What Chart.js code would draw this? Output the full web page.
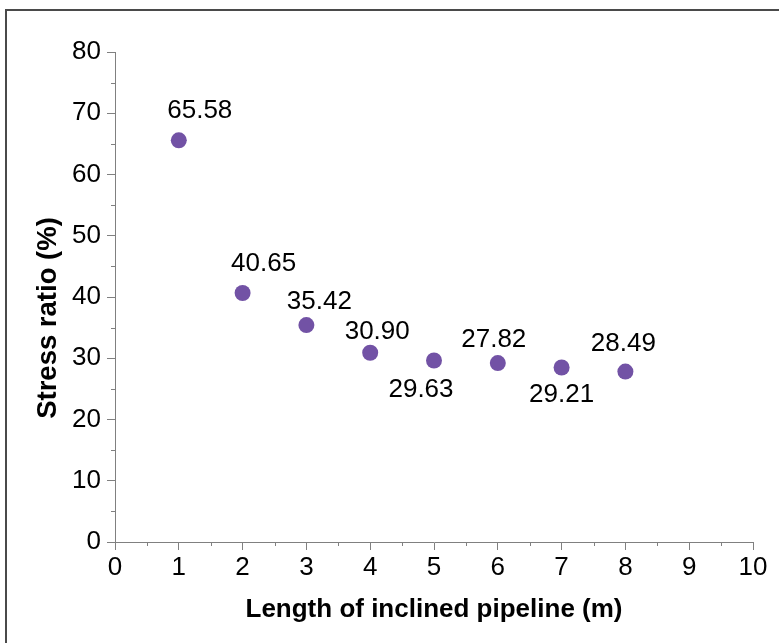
<!DOCTYPE html>
<html><head><meta charset="utf-8">
<script src="https://cdn.jsdelivr.net/npm/chart.js@4.4.1/dist/chart.umd.min.js"></script>
<style>
html,body{margin:0;padding:0;background:#fff;overflow:hidden}
#wrap{position:relative;width:779px;height:643px}
#frame{position:absolute;left:5px;top:9px;width:800px;height:700px;border-left:2px solid #4a4a4a;border-top:2px solid #4a4a4a}
canvas{position:absolute;left:0;top:0}
</style></head><body>
<div id="wrap"><div id="frame"></div><canvas id="c" width="779" height="643"></canvas></div>
<script>
// ---- data ----
const lengths = [1, 2, 3, 4, 5, 6, 7, 8];
const stressRatio = [65.58, 40.65, 35.42, 30.90, 29.63, 29.21, 28.49, 27.82];
const pointLabels = ["65.58", "40.65", "35.42", "30.90", "29.63", "27.82", "29.21", "28.49"];
const xMinorTicks = [0.5, 1.5, 2.5, 3.5, 4.5, 5.5, 6.5, 7.5, 8.5, 9.5];
const yMinorTicks = [5, 15, 25, 35, 45, 55, 65, 75];
const xTitle = 'Length of inclined pipeline (m)';
const yTitle = 'Stress ratio (%)';

// ---- styling (label placement relative to each point) ----
const labelOffsets = [[21,-22],[21,-22],[13,-16],[7,-14],[-13,36],[-4,-16],[0,35],[-2,-21]];
const FONT = "'Liberation Sans', Arial, sans-serif";
const AXIS = '#808080';

const minorTicks = {
  id: 'minorTicks',
  afterDraw(chart) {
    const {ctx, chartArea, scales} = chart;
    ctx.save();
    ctx.strokeStyle = AXIS;
    ctx.lineWidth = 1;
    ctx.beginPath();
    yMinorTicks.forEach(v => {
      const y = Math.round(scales.y.getPixelForValue(v)) + 0.5;
      ctx.moveTo(chartArea.left - 4, y); ctx.lineTo(chartArea.left, y);
    });
    xMinorTicks.forEach(v => {
      const x = Math.round(scales.x.getPixelForValue(v)) + 0.5;
      ctx.moveTo(x, chartArea.bottom); ctx.lineTo(x, chartArea.bottom + 4);
    });
    ctx.stroke();
    // y axis title
    ctx.save();
    ctx.translate(48, 318);
    ctx.rotate(-Math.PI / 2);
    ctx.font = 'bold 27.5px ' + FONT;
    ctx.fillStyle = '#000';
    ctx.textAlign = 'center';
    ctx.textBaseline = 'middle';
    ctx.fillText(yTitle, 0, 0);
    ctx.restore();
    ctx.restore();
  }
};

const valueLabels = {
  id: 'valueLabels',
  afterDatasetsDraw(chart) {
    const {ctx} = chart;
    const meta = chart.getDatasetMeta(0);
    ctx.save();
    ctx.font = '26px ' + FONT;
    ctx.fillStyle = '#000';
    ctx.textAlign = 'center';
    ctx.textBaseline = 'alphabetic';
    meta.data.forEach((pt, i) => {
      const [dx, dy] = labelOffsets[i];
      ctx.fillText(pointLabels[i], pt.x + dx, pt.y + dy);
    });
    ctx.restore();
  }
};

new Chart(document.getElementById('c'), {
  type: 'scatter',
  data: {
    datasets: [{
      data: lengths.map((x, i) => ({x, y: stressRatio[i]})),
      backgroundColor: '#7252a5',
      borderColor: '#7252a5',
      borderWidth: 0,
      pointRadius: 8,
      pointHoverRadius: 8
    }]
  },
  options: {
    responsive: false,
    animation: false,
    events: [],
    layout: {padding: {left: 0, top: 52, right: 26, bottom: 0}},
    plugins: {legend: {display: false}, tooltip: {enabled: false}},
    scales: {
      x: {
        type: 'linear', min: 0, max: 10,
        afterFit(s) { s.height = 101; },
        ticks: {stepSize: 1, padding: 2, color: '#000', font: {family: FONT, size: 26}},
        grid: {drawOnChartArea: false, drawTicks: true, tickLength: 8, color: AXIS, tickColor: AXIS},
        border: {display: true, color: AXIS, width: 1},
        title: {display: true, text: xTitle, color: '#000',
                font: {family: FONT, size: 26, weight: 'bold'}, padding: {top: 0, bottom: 18}}
      },
      y: {
        type: 'linear', min: 0, max: 80,
        afterFit(s) { s.width = 115; },
        ticks: {stepSize: 10, padding: 6, color: '#000', font: {family: FONT, size: 26}},
        grid: {drawOnChartArea: false, drawTicks: true, tickLength: 8, color: AXIS, tickColor: AXIS},
        border: {display: true, color: AXIS, width: 1},
        title: {display: false}
      }
    }
  },
  plugins: [minorTicks, valueLabels]
});
</script>
</body></html>
